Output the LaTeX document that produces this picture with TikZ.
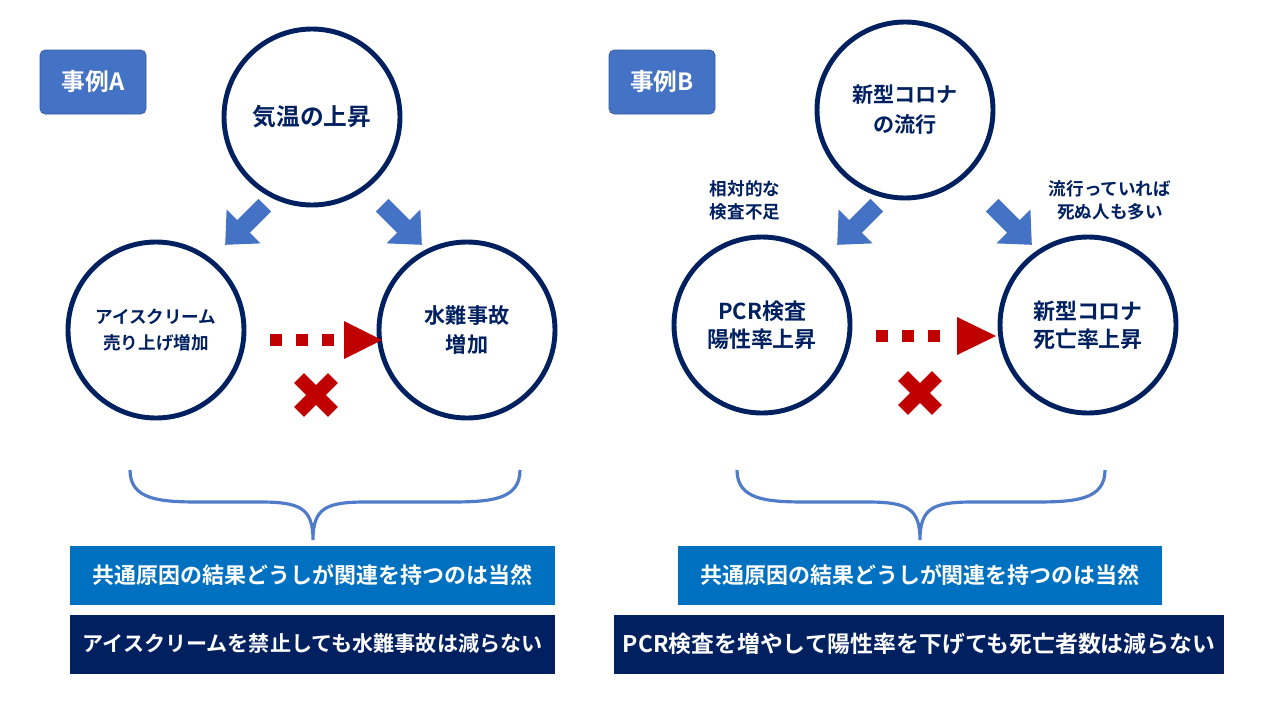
\documentclass[tikz,border=0pt]{standalone}
\usepackage{fontspec}
\setmainfont{Noto Sans CJK JP}[BoldFont={* Bold}]
\begin{document}
\begin{tikzpicture}[x=0.02cm,y=-0.02cm,
  circ/.style={circle,draw=navy,line width=2.8pt,minimum size=176*0.02cm,inner sep=0pt,align=center,font=\bfseries\fontsize{11.5}{15}\selectfont,text=navy},
  tagbox/.style={rounded corners=3pt,fill=tagblue,draw=tagblue!80!black,text=white,font=\bfseries\fontsize{13.5}{15}\selectfont,minimum width=106*0.02cm,minimum height=64*0.02cm},
  lbl/.style={font=\bfseries\fontsize{10}{13}\selectfont,text=navy,align=center},
  bar/.style={text=white,font=\bfseries\fontsize{12.5}{14}\selectfont,minimum height=59*0.02cm,inner sep=0pt},
  brace/.style={draw=braceblue,line width=1.8pt}]
\definecolor{navy}{HTML}{002060}
\definecolor{tagblue}{HTML}{4472C4}
\definecolor{braceblue}{HTML}{4F7BC8}
\definecolor{midblue}{HTML}{0070C0}
\definecolor{redc}{HTML}{C00000}
\useasboundingbox (0,0) rectangle (1280,720);
\newcommand{\blockarrow}[3]{\begin{scope}[shift={(#1,#2)},rotate=#3]
 \fill[tagblue] (-28,-9) -- (2,-9) -- (2,-24) -- (28,0) -- (2,24) -- (2,9) -- (-28,9) -- cycle;\end{scope}}
\newcommand{\redx}[2]{\begin{scope}[shift={(#1,#2)}]
 \fill[redc,rotate=45] (-24,-7) rectangle (24,7);
 \fill[redc,rotate=-45] (-24,-7) rectangle (24,7);\end{scope}}
% Case A
\node[tagbox] (ta) at (93,82) {事例A};
\node[circ,font=\bfseries\fontsize{13.5}{17}\selectfont] (c1) at (312,117) {気温の上昇};
\node[circ,font=\bfseries\fontsize{10}{15}\selectfont] (c2) at (156,330) {アイスクリーム\\売り上げ増加};
\node[circ,font=\bfseries\fontsize{12}{17}\selectfont] (c3) at (467,330) {水難事故\\増加};
\blockarrow{245}{225}{225}
\blockarrow{402}{225}{-45}
\foreach \x in {270,296,322} \fill[redc] (\x,334) rectangle ++(12,12);
\fill[redc] (344,321) -- (382,340) -- (344,359) -- cycle;
\redx{316}{395}
\draw[brace] (130,470) .. controls (130,500) and (160,502) .. (200,502) -- (260,502) .. controls (300,502) and (313,508) .. (313,540)
 .. controls (313,508) and (326,502) .. (366,502) -- (450,502) .. controls (490,502) and (520,500) .. (520,470);
\node[bar,fill=midblue,minimum width=485*0.02cm] (b1) at (312.5,575) {共通原因の結果どうしが関連を持つのは当然};
\node[bar,fill=navy,minimum width=485*0.02cm,font=\bfseries\fontsize{12}{14}\selectfont] (b2) at (312.5,644) {アイスクリームを禁止しても水難事故は減らない};
% Case B
\node[tagbox] (tb) at (662,82) {事例B};
\node[circ,font=\bfseries\fontsize{12}{17}\selectfont] (d1) at (905,110) {新型コロナ\\の流行};
\node[circ,font=\bfseries\fontsize{12.5}{16}\selectfont] (d2) at (762,325) {PCR検査\\陽性率上昇};
\node[circ,font=\bfseries\fontsize{12.5}{16}\selectfont] (d3) at (1088,325) {新型コロナ\\死亡率上昇};
\node[lbl] (l1) at (745,200) {相対的な\\検査不足};
\node[lbl] (l2) at (1110,200) {流行っていれば\\死ぬ人も多い};
\blockarrow{857}{225}{225}
\blockarrow{1012}{225}{-45}
\foreach \x in {876,902,928} \fill[redc] (\x,330) rectangle ++(12,12);
\fill[redc] (957,317) -- (996,336) -- (957,355) -- cycle;
\redx{920}{393}
\draw[brace] (737,470) .. controls (737,500) and (767,502) .. (807,502) -- (867,502) .. controls (907,502) and (920,508) .. (920,540)
 .. controls (920,508) and (933,502) .. (973,502) -- (1035,502) .. controls (1075,502) and (1105,500) .. (1105,470);
\node[bar,fill=midblue,minimum width=484*0.02cm] (b3) at (920,575) {共通原因の結果どうしが関連を持つのは当然};
\node[bar,fill=navy,minimum width=610*0.02cm,font=\bfseries\fontsize{13}{14}\selectfont] (b4) at (919,644) {PCR検査を増やして陽性率を下げても死亡者数は減らない};
\end{tikzpicture}
\end{document}
